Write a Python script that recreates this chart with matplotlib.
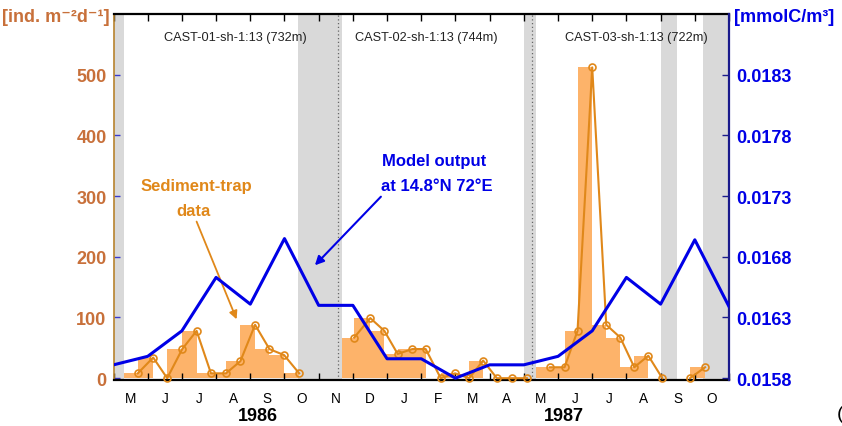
import numpy as np
import matplotlib.pyplot as plt

plt.rcParams['font.family'] = ['Liberation Sans', 'DejaVu Sans']

# month axis: 0 = 1 May 1986, 18 = 1 Nov 1987
months = ['M', 'J', 'J', 'A', 'S', 'O', 'N', 'D', 'J', 'F', 'M', 'A',
          'M', 'J', 'J', 'A', 'S', 'O']

# sediment trap casts: cup start, cup end times (months) and fluxes [ind. m-2 d-1]
cast1_start = 0.32
cast1_t = [0.71, 1.16, 1.57, 2.01, 2.43, 2.85, 3.29, 3.71, 4.14, 4.56, 4.99, 5.43]
cast1_v = [8, 34, 0, 48, 78, 8, 8, 28, 88, 48, 38, 8]

cast2_start = 6.67
cast2_t = [7.04, 7.51, 7.92, 8.31, 8.74, 9.13, 9.57, 9.99, 10.40, 10.81, 11.21, 11.65, 12.09]
cast2_v = [67, 99, 78, 40, 48, 48, 0, 8, 0, 29, 0, 0, 0]

cast3_start = 12.36
cast3_t = [12.76, 13.19, 13.57, 14.00, 14.41, 14.82, 15.23, 15.64, 16.05]
cast3_v = [18, 18, 78, 512, 88, 67, 18, 37, 0]

cast3b_start = 16.47
cast3b_t = [16.86, 17.30]
cast3b_v = [0, 18]

cast_names = ['CAST-01-sh-1:13 (732m)', 'CAST-02-sh-1:13 (744m)', 'CAST-03-sh-1:13 (722m)']
cast_name_x = [3.56, 9.14, 15.28]

# model output at 14.8N 72E, monthly [mmolC/m3]
model_t = list(range(19))
model_v = [0.01591, 0.01598, 0.01619, 0.01663, 0.01641, 0.01695, 0.01640, 0.01640,
           0.01596, 0.01596, 0.01580, 0.01591, 0.01591, 0.01598, 0.01619, 0.01663,
           0.01641, 0.01694, 0.01639]

# periods without trap data, and trap redeployments
gaps = [(0, 0.32), (5.41, 6.67), (12.01, 12.36), (16.0, 16.47), (17.24, 18)]
redeploy = [6.57, 12.25]

bar_col = '#fdb36a'
trap_col = '#e0881a'
left_col = '#c8703a'
blue = '#0000e6'

fig = plt.figure(figsize=(8.42, 4.27), dpi=100)
ax = fig.add_axes([0.1348, 0.1077, 0.7310, 0.8572])
ax.set_xlim(0, 18)
ax.set_ylim(-3, 600)

for a, b in gaps:
    ax.axvspan(a, b, color='#d9d9d9', lw=0, zorder=0)
for x in redeploy:
    ax.axvline(x, color='#666666', ls=(0, (1, 2)), lw=0.9, zorder=0.5)

for start, t, v in [(cast1_start, cast1_t, cast1_v), (cast2_start, cast2_t, cast2_v),
                    (cast3_start, cast3_t, cast3_v), (cast3b_start, cast3b_t, cast3b_v)]:
    edges = np.array([start] + t)
    ax.bar(edges[:-1], v, width=np.diff(edges), align='edge', color=bar_col,
           lw=0, zorder=1)
    ax.plot(t, v, color=trap_col, lw=1.5, marker='o', ms=5, mfc='none', mew=1.2,
            zorder=3, clip_on=False)

for name, x in zip(cast_names, cast_name_x):
    ax.text(x, 562, name, ha='center', va='center', fontsize=9.2, color='#222222')

# x axis: month boundaries as ticks, month initials in between
ax.set_xticks(range(19))
ax.set_xticklabels([])
ax.set_xticks(np.arange(18) + 0.5, minor=True)
ax.set_xticklabels(months, minor=True)
ax.tick_params(axis='x', which='major', direction='in', length=5, width=1,
               top=True, bottom=True)
ax.tick_params(axis='x', which='minor', length=0, pad=8, labelsize=9.8)

ax.set_yticks(range(0, 501, 100))
ax.tick_params(axis='y', direction='in', length=4, width=1, color='#3a3acc',
               labelcolor=left_col, labelsize=13, pad=5)
for lbl in ax.get_yticklabels():
    lbl.set_fontweight('bold')

ax.text(4.23, -0.097, '1986', transform=ax.get_xaxis_transform(), ha='center',
        va='center', fontsize=13, fontweight='bold')
ax.text(13.18, -0.097, '1987', transform=ax.get_xaxis_transform(), ha='center',
        va='center', fontsize=13, fontweight='bold')

ax.text(2.41, 317, 'Sediment-trap', ha='center', va='center', color=trap_col,
        fontsize=12, fontweight='bold')
ax.text(2.35, 276, 'data', ha='center', va='center', color=trap_col,
        fontsize=12, fontweight='bold')
ax.annotate('', xy=(3.60, 97), xytext=(2.43, 258),
            arrowprops=dict(arrowstyle='-|>', color=trap_col, lw=1.3,
                            mutation_scale=12, shrinkA=0, shrinkB=0))

ax.text(7.84, 358, 'Model output', ha='left', va='center', color=blue,
        fontsize=12, fontweight='bold')
ax.text(7.82, 317, 'at 14.8°N 72°E', ha='left', va='center', color=blue,
        fontsize=12, fontweight='bold')
ax.annotate('', xy=(5.89, 186), xytext=(7.82, 299),
            arrowprops=dict(arrowstyle='-|>', color=blue, lw=1.5,
                            mutation_scale=13, shrinkA=0, shrinkB=0))

for s in ['top', 'bottom']:
    ax.spines[s].set_linewidth(1.6)
ax.spines['left'].set_color('#b8832e')
ax.spines['left'].set_linewidth(1.2)
ax.spines['right'].set_visible(False)

# right axis: model concentration
ax2 = ax.twinx()
ax2.set_ylim(0.0158 - 3 * 5e-6, 0.0158 + 600 * 5e-6)
ax2.plot(model_t, model_v, color=blue, lw=2.2, zorder=4)
r_ticks = [0.0158, 0.0163, 0.0168, 0.0173, 0.0178, 0.0183]
ax2.set_yticks(r_ticks)
ax2.set_yticklabels([f'{v:.4f}' for v in r_ticks], fontweight='bold')
ax2.tick_params(axis='y', direction='in', length=5, width=1, color='#1a1a8c',
                labelcolor=blue, labelsize=13, pad=5)
for s in ['top', 'bottom', 'left']:
    ax2.spines[s].set_visible(False)
ax2.spines['right'].set_color('#1a1a8c')
ax2.spines['right'].set_linewidth(1.6)

fig.text(110 / 842, 1 - 18 / 427, '[ind. m⁻²d⁻¹]', ha='right', va='center',
         color=left_col, fontsize=13, fontweight='bold')
fig.text(734 / 842, 1 - 18 / 427, '[mmolC/m³]', ha='left', va='center',
         color=blue, fontsize=13, fontweight='bold')
fig.text(837 / 842, 1 - 415 / 427, '(', ha='left', va='center', fontsize=14)

fig.savefig('out.png', dpi=100)
